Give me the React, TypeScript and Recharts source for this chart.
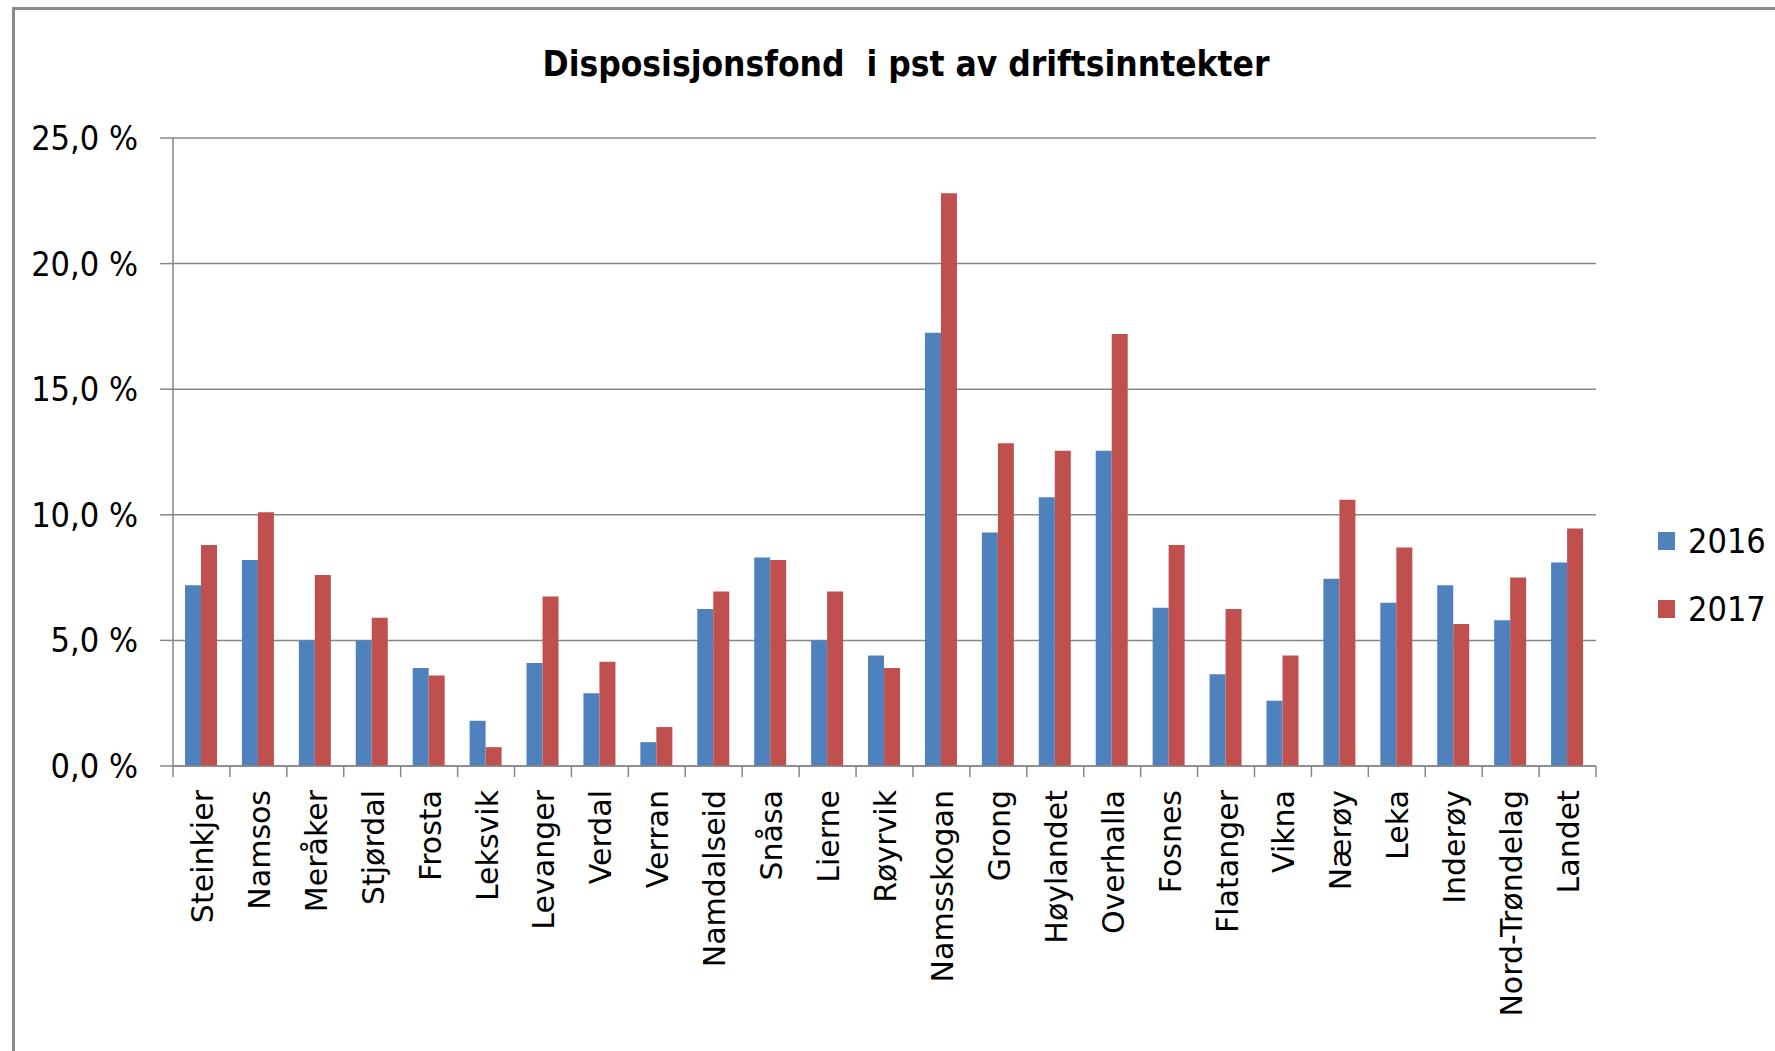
import React from "react";
import {
  BarChart,
  Bar,
  XAxis,
  YAxis,
  CartesianGrid,
  Legend,
} from "recharts";

const kommuner = [
  "Steinkjer", "Namsos", "Meråker", "Stjørdal", "Frosta", "Leksvik", "Levanger",
  "Verdal", "Verran", "Namdalseid", "Snåsa", "Lierne", "Røyrvik", "Namsskogan",
  "Grong", "Høylandet", "Overhalla", "Fosnes", "Flatanger", "Vikna", "Nærøy",
  "Leka", "Inderøy", "Nord-Trøndelag", "Landet",
];

const values2016 = [
  7.2, 8.2, 5.0, 5.0, 3.9, 1.8, 4.1, 2.9, 0.95, 6.25, 8.3, 5.0, 4.4, 17.25,
  9.3, 10.7, 12.55, 6.3, 3.65, 2.6, 7.45, 6.5, 7.2, 5.8, 8.1,
];

const values2017 = [
  8.8, 10.1, 7.6, 5.9, 3.6, 0.75, 6.75, 4.15, 1.55, 6.95, 8.2, 6.95, 3.9, 22.8,
  12.85, 12.55, 17.2, 8.8, 6.25, 4.4, 10.6, 8.7, 5.65, 7.5, 9.45,
];

const yTicks = [0, 5, 10, 15, 20, 25];

const data = kommuner.map((name, i) => ({
  name,
  y2016: values2016[i],
  y2017: values2017[i],
}));

const W = 1775;
const H = 1051;
const LEFT = 173;
const RIGHT = 1596;
const TOP = 138;
const BOTTOM = 766;
const STEP = (RIGHT - LEFT) / kommuner.length;
const GRAY = "#878787";
const BLUE = "#4F81BD";
const RED = "#C0504D";
const NARROW = "'Liberation Sans Narrow', 'DejaVu Sans Condensed', 'Open Sans', sans-serif";

const fmt = (v: number) => v.toFixed(1).replace(".", ",") + " %";

function XTick(props: any) {
  const { x, y, payload, index } = props;
  const half = STEP / 2;
  return (
    <g>
      <line x1={x - half} y1={y} x2={x - half} y2={y + 11} stroke={GRAY} strokeWidth={1.5} />
      {index === kommuner.length - 1 && (
        <line x1={x + half} y1={y} x2={x + half} y2={y + 11} stroke={GRAY} strokeWidth={1.5} />
      )}
      <text
        transform={`translate(${x + 1},${y + 24}) rotate(-90)`}
        textAnchor="end"
        dominantBaseline="central"
        fontFamily="'DejaVu Sans', Verdana, sans-serif"
        fontSize={30}
        fill="#000"
      >
        {payload.value}
      </text>
    </g>
  );
}

function LegendBox() {
  const items = [
    { label: "2016", color: BLUE },
    { label: "2017", color: RED },
  ];
  return (
    <div style={{ width: W - RIGHT, height: 250, paddingTop: 106, paddingLeft: 62, boxSizing: "border-box" }}>
      {items.map((it) => (
        <div key={it.label} style={{ height: 68, display: "flex", alignItems: "center", whiteSpace: "nowrap" }}>
          <span
            style={{
              width: 17,
              height: 18,
              flexShrink: 0,
              background: it.color,
              display: "inline-block",
              marginRight: 13,
            }}
          />
          <span style={{ fontFamily: NARROW, fontSize: 34, color: "#000" }}>{it.label}</span>
        </div>
      ))}
    </div>
  );
}

export default function App() {
  return (
    <div style={{ position: "absolute", left: 0, top: 0, width: W, height: H, overflow: "hidden", background: "#fff" }}>
      <div
        style={{
          position: "absolute",
          left: 12,
          top: 7,
          width: 2000,
          height: 2000,
          border: "3px solid #8c8c8c",
        }}
      />
      <div
        style={{
          position: "absolute",
          left: 0,
          width: 1812,
          top: 44,
          textAlign: "center",
          fontFamily: NARROW,
          fontWeight: "bold",
          fontSize: 35,
          color: "#000",
        }}
      >
        Disposisjonsfond&nbsp; i pst av driftsinntekter
      </div>
      <div style={{ position: "absolute", left: 0, top: 0 }}>
        <BarChart
          width={W}
          height={H}
          data={data}
          margin={{ top: TOP, right: 0, bottom: 0, left: 0 }}
          barGap={0}
          barSize={16}
        >
          <CartesianGrid horizontal vertical={false} stroke={GRAY} strokeWidth={1.5} />
          <XAxis
            dataKey="name"
            interval={0}
            height={H - BOTTOM}
            tickLine={false}
            tickSize={0}
            tickMargin={0}
            axisLine={{ stroke: GRAY, strokeWidth: 1.5 }}
            tick={<XTick />}
          />
          <YAxis
            width={LEFT}
            domain={[0, 25]}
            ticks={yTicks}
            tickFormatter={fmt}
            tickSize={13}
            tickMargin={22}
            axisLine={{ stroke: GRAY, strokeWidth: 1.5 }}
            tickLine={{ stroke: GRAY, strokeWidth: 1.5 }}
            tick={{ fill: "#000", fontSize: 34, fontFamily: NARROW }}
          />
          <Legend
            layout="vertical"
            align="right"
            verticalAlign="middle"
            wrapperStyle={{ width: W - RIGHT }}
            content={<LegendBox />}
          />
          <Bar dataKey="y2016" name="2016" fill={BLUE} isAnimationActive={false} />
          <Bar dataKey="y2017" name="2017" fill={RED} isAnimationActive={false} />
        </BarChart>
      </div>
    </div>
  );
}
